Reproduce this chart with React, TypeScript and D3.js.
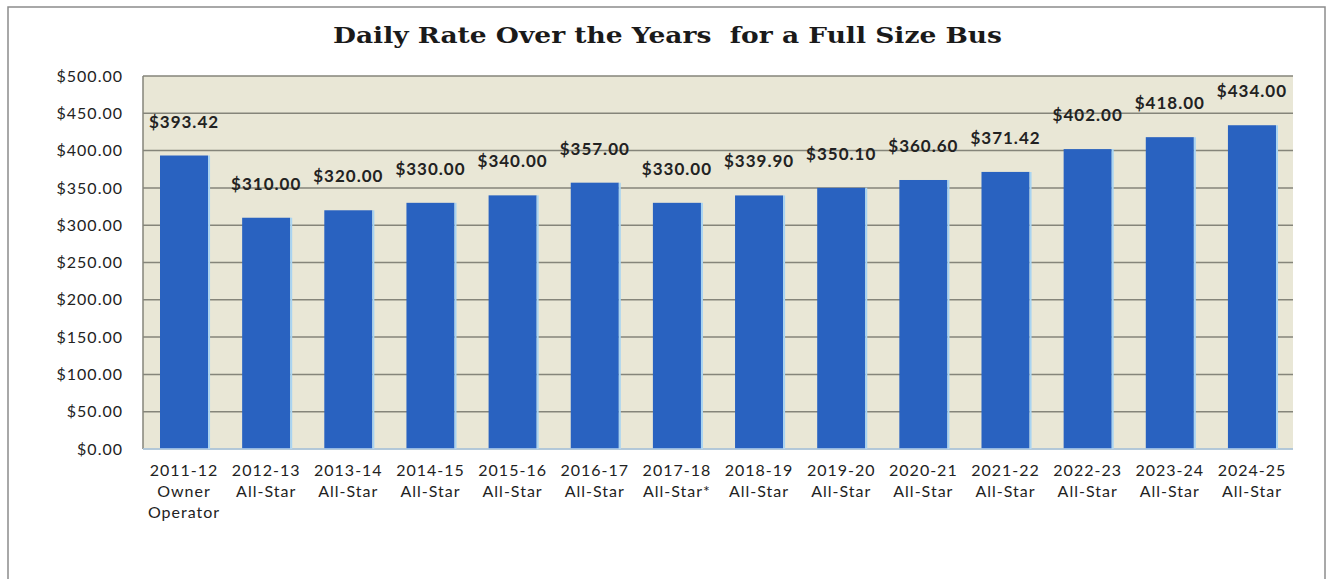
import React from "react";
import * as d3 from "d3";

const years = ["2011-12", "2012-13", "2013-14", "2014-15", "2015-16", "2016-17", "2017-18", "2018-19", "2019-20", "2020-21", "2021-22", "2022-23", "2023-24", "2024-25"];
const operators = ["Owner Operator", "All-Star", "All-Star", "All-Star", "All-Star", "All-Star", "All-Star*", "All-Star", "All-Star", "All-Star", "All-Star", "All-Star", "All-Star", "All-Star"];
const rates = [393.42, 310.0, 320.0, 330.0, 340.0, 357.0, 330.0, 339.9, 350.1, 360.6, 371.42, 402.0, 418.0, 434.0];
const yTicks = [0, 50, 100, 150, 200, 250, 300, 350, 400, 450, 500];
const title = "Daily Rate Over the Years  for a Full Size Bus";

const W = 1326;
const H = 579;
const plot = { left: 143, top: 76, right: 1293, bottom: 449 };

export default function App() {
  const x = d3
    .scaleBand<number>()
    .domain(d3.range(years.length))
    .range([plot.left, plot.right])
    .paddingInner(0.415)
    .paddingOuter(0.207);
  const y = d3.scaleLinear().domain([0, 500]).range([plot.bottom, plot.top]);
  const fmt = (v: number) => "$" + d3.format(",.2f")(v);
  const sans = "Lato, 'Open Sans', sans-serif";

  return (
    <svg width={W} height={H} style={{ position: "absolute", left: 0, top: 0, background: "#fff" }}>
      <rect x={8} y={7} width={1317} height={H} fill="#fff" stroke="#8c8c8c" strokeWidth={1.5} />
      <text
        x={333}
        y={43}
        textLength={669}
        lengthAdjust="spacingAndGlyphs"
        style={{ whiteSpace: "pre" }}
        fontFamily="'DejaVu Serif', 'Liberation Serif', serif"
        fontWeight="bold"
        fontSize={23}
        fill="#1a1a1a"
      >
        {title}
      </text>
      <rect x={plot.left} y={plot.top} width={plot.right - plot.left} height={plot.bottom - plot.top} fill="#e9e7d6" />
      {yTicks.map((t) => (
        <g key={t}>
          <line x1={plot.left} x2={plot.right} y1={y(t)} y2={y(t)} stroke="#85857a" strokeWidth={1.5} />
          <text x={123} y={y(t)} dy="0.35em" textAnchor="end" fontFamily={sans} fontSize={16} letterSpacing={1} fill="#222">
            {fmt(t)}
          </text>
        </g>
      ))}
      <line x1={plot.left} x2={plot.left} y1={plot.top} y2={plot.bottom} stroke="#85857a" strokeWidth={1.5} />
      {rates.map((v, i) => (
        <g key={i}>
          <rect x={x(i)!} y={y(v)} width={x.bandwidth()} height={y(0) - y(v)} fill="#2962c0" />
          <line x1={x(i)! + x.bandwidth() + 1} x2={x(i)! + x.bandwidth() + 1} y1={y(v)} y2={y(0)} stroke="#a8d4f2" strokeWidth={2} />
          <text x={x(i)! + x.bandwidth() / 2} y={y(v) - 28} textAnchor="middle" fontFamily={sans} fontWeight="bold" fontSize={17} letterSpacing={1} fill="#222">
            {fmt(v)}
          </text>
        </g>
      ))}
      <line x1={plot.left} x2={plot.right} y1={plot.bottom} y2={plot.bottom} stroke="#b8d6ef" strokeWidth={1.5} />
      {years.map((yr, i) => {
        const cx = x(i)! + x.bandwidth() / 2;
        const words = operators[i] === "Owner Operator" ? ["Owner", "Operator"] : [operators[i]];
        return (
          <text key={yr} x={cx} textAnchor="middle" fontFamily={sans} fontSize={16} letterSpacing={1} fill="#222">
            <tspan x={cx} y={476}>{yr}</tspan>
            {words.map((w, k) => (
              <tspan key={k} x={cx} y={497 + k * 21}>{w}</tspan>
            ))}
          </text>
        );
      })}
    </svg>
  );
}
